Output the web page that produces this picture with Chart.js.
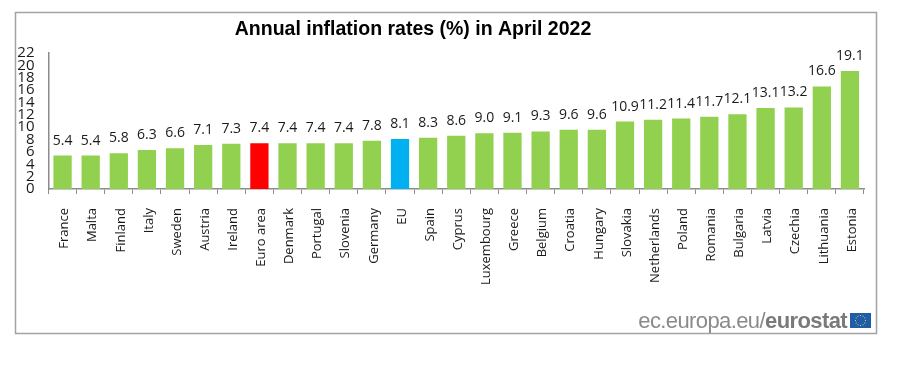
<!DOCTYPE html>
<html><head><meta charset="utf-8">
<style>html,body{margin:0;padding:0;background:#fff}#w{position:relative;width:906px;height:378px}</style>
<script src="https://cdn.jsdelivr.net/npm/chart.js@4"></script>
</head><body><div id="w"><canvas id="c" width="906" height="378"></canvas></div>
<script>
const categories=["France","Malta","Finland","Italy","Sweden","Austria","Ireland","Euro area","Denmark","Portugal","Slovenia","Germany","EU","Spain","Cyprus","Luxembourg","Greece","Belgium","Croatia","Hungary","Slovakia","Netherlands","Poland","Romania","Bulgaria","Latvia","Czechia","Lithuania","Estonia"];
const values=[5.4,5.4,5.8,6.3,6.6,7.1,7.3,7.4,7.4,7.4,7.4,7.8,8.1,8.3,8.6,9.0,9.1,9.3,9.6,9.6,10.9,11.2,11.4,11.7,12.1,13.1,13.2,16.6,19.1];
const barColors=categories.map(c=>c==="Euro area"?"#ff0000":c==="EU"?"#00b0f0":"#92d050");
const titleText="Annual inflation rates (%) in April 2022";
const sourceLight="ec.europa.eu/";
const sourceBold="eurostat";
const decor={id:"decor",
 beforeDraw(ch){const x=ch.ctx;x.save();x.strokeStyle="#a3a3a3";x.lineWidth=1.5;x.strokeRect(15.5,12.5,861,321);x.restore();},
 afterDraw(ch){const x=ch.ctx;x.save();
  x.textBaseline="alphabetic";x.textAlign="center";x.fillStyle="#000";
  x.font="bold 19.5px 'Liberation Sans'";x.fillText(titleText,413,35);
  x.textAlign="left";
  x.font="bold 22px 'Liberation Sans'";x.letterSpacing="-0.6px";const bw=x.measureText(sourceBold).width;
  const sx=847-bw;
  x.fillStyle="#7a7a7a";x.fillText(sourceBold,sx,328);
  x.font="22px 'Liberation Sans'";x.fillStyle="#8a8a8a";
  x.fillText(sourceLight,sx-x.measureText(sourceLight).width,328);
  x.letterSpacing="0px";
  x.fillStyle="#1f5da8";x.fillRect(850,313,21,15);
  x.fillStyle="#e8d44a";for(let i=0;i<12;i++){const a=i*Math.PI/6;x.fillRect(860.5+5*Math.cos(a)-.5,320.5+5*Math.sin(a)-.5,1,1);}
  x.restore();}};
const valueLabels={id:"valueLabels",afterDatasetsDraw(ch){const x=ch.ctx,m=ch.getDatasetMeta(0);x.save();x.font="14px 'Open Sans'";x.fillStyle="#1a1a1a";x.textAlign="center";x.textBaseline="middle";
 m.data.forEach((b,i)=>x.fillText(values[i].toFixed(1),b.x,b.y-15));x.restore();}};
new Chart(document.getElementById("c"),{type:"bar",
 data:{labels:categories,datasets:[{data:values,backgroundColor:barColors,categoryPercentage:1,barPercentage:0.65}]},
 plugins:[decor,valueLabels],
 options:{responsive:false,animation:false,
  layout:{padding:{left:0,right:42,top:53,bottom:0}},
  plugins:{legend:{display:false},tooltip:{enabled:false},title:{display:false}},
  scales:{
   x:{grid:{display:true,drawOnChartArea:false,drawTicks:true,tickLength:5,color:"#8c8c8c",offset:true},border:{color:"#8c8c8c",width:1.5},
      ticks:{color:"#1a1a1a",font:{family:"'Open Sans'",size:13},maxRotation:90,minRotation:90,autoSkip:false,padding:14,labelOffset:2},
      afterFit(s){s.height=378-189;}},
   y:{min:0,max:22,grid:{display:false,drawTicks:true,tickLength:5},border:{color:"#8c8c8c",width:1.5},
      ticks:{stepSize:2,color:"#1a1a1a",font:{family:"'Open Sans'",size:15},padding:9,autoSkip:false},
      afterFit(s){s.width=48.5;}}
  }}});
</script></body></html>
